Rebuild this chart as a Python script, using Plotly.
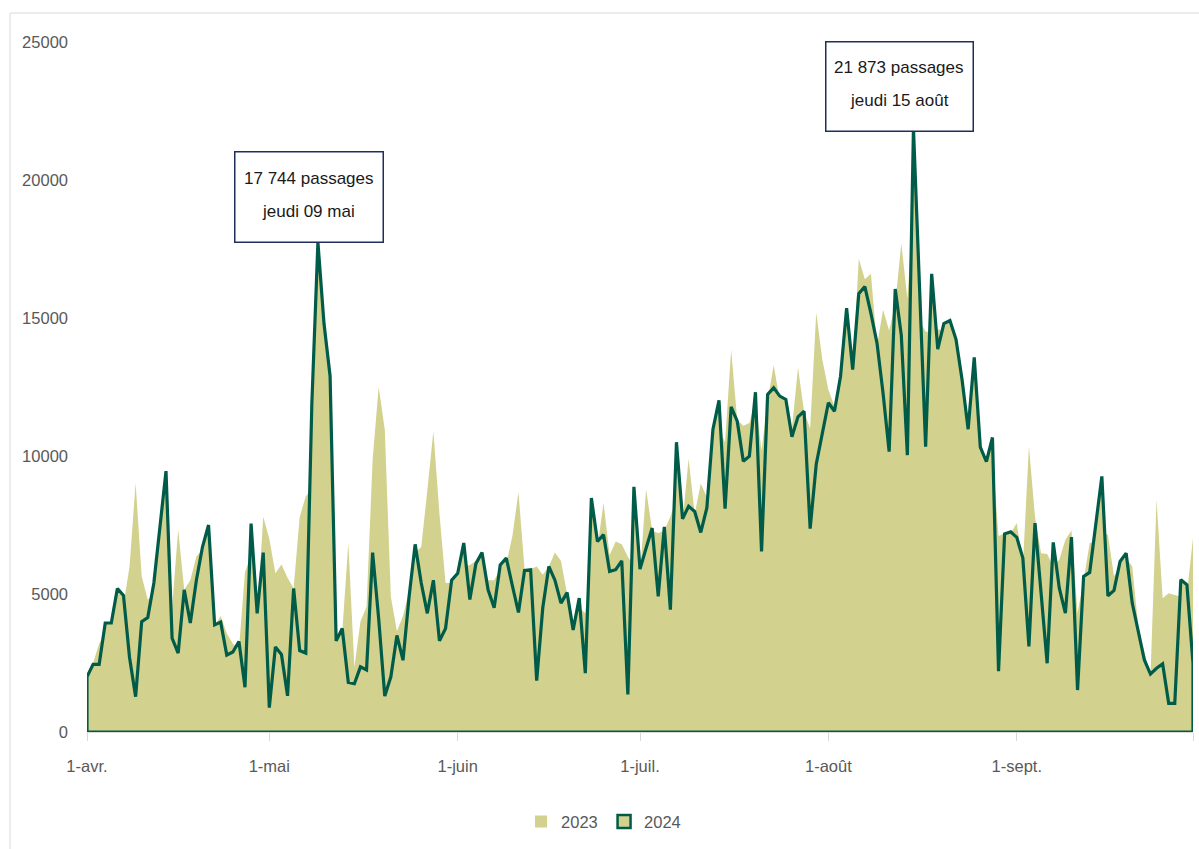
import pandas as pd
import plotly.graph_objects as go

# ---------------- data ----------------
start_date = "2024-04-01"
end_date = "2024-09-30"

passages_2024 = [
    # avril
    2000, 2450, 2450, 3950, 3950, 5200, 4950, 2700, 1280, 4000, 4150, 5400, 7350, 9450, 3400,
    2860, 5150, 3950, 5500, 6700, 7500, 3880, 3980, 2790, 2900, 3280, 1620, 7550, 4300, 6500,
    # mai
    880, 3080, 2810, 1310, 5200, 2950, 2860, 11900, 17744, 14800, 12900, 3300, 3750, 1800, 1750,
    2360, 2250, 6500, 4100, 1300, 2000, 3500, 2600, 4900, 6800, 5400, 4300, 5500, 3300, 3750, 5500,
    # juin
    5750, 6850, 4800, 6100, 6500, 5150, 4500, 6050, 6300, 5300, 4330, 5850, 5880, 1860, 4500,
    6000, 5500, 4670, 5050, 3700, 4850, 2130, 8480, 6900, 7150, 5820, 5880, 6200, 1360, 8880,
    # juillet
    5900, 6660, 7390, 4910, 7430, 4430, 10500, 7720, 8180, 7990, 7230, 8120, 10960, 12020, 8090,
    11780, 11260, 9810, 9990, 12310, 6540, 12230, 12470, 12170, 12050, 10700, 11420, 11620, 7370, 9700, 10840,
    # août
    11930, 11620, 12890, 15360, 13130, 15880, 16140, 15170, 14090, 12270, 10160, 16050, 14370, 10030, 21873,
    16100, 10340, 16600, 13870, 14800, 14910, 14230, 12760, 10970, 13570, 10320, 9800, 10670, 2200, 7180, 7250,
    # septembre
    7050, 6300, 3100, 7570, 5030, 2490, 6870, 5210, 4310, 7060, 1520, 5640, 5780, 7510, 9260,
    4930, 5130, 6180, 6480, 4670, 3580, 2610, 2100, 2310, 2470, 1040, 1040, 5520, 5330, 2490,
]

passages_2023 = [
    # avril
    1900, 2500, 3200, 3600, 3900, 4900, 4600, 6000, 9020, 5640, 4790, 5000, 6000, 7000, 4500,
    7330, 5150, 5500, 6360, 6600, 7000, 3850, 4200, 3580, 3200, 3000, 5800, 6400, 4200, 7800,
    # mai
    7000, 5750, 6070, 5590, 5200, 7790, 8540, 8800, 9500, 9000, 8000, 3200, 3600, 6850, 2350,
    4000, 4540, 9870, 12500, 10960, 4900, 3650, 4200, 5100, 6500, 6700, 8750, 10900, 7900, 5400, 5400,
    # juin
    5600, 6000, 6050, 6200, 6300, 5500, 5500, 5900, 6100, 7100, 8700, 5900, 5900, 6000, 5700,
    6000, 6500, 6200, 5000, 4000, 4500, 4300, 6500, 6700, 8300, 6400, 6900, 6800, 6350, 6000,
    # juillet
    5700, 8800, 7300, 7200, 7300, 7800, 8500, 7600, 9900, 7900, 9000, 8500, 10500, 11000, 10500,
    13850, 11300, 11100, 11200, 12000, 10200, 12000, 13300, 12000, 11900, 11000, 13200, 11600, 11000, 15200, 13500,
    # août
    12400, 11800, 12600, 14500, 13000, 17150, 16400, 16600, 14000, 15300, 14550, 15500, 17700, 15700, 19000,
    14900, 14500, 14500, 14600, 14500, 14500, 14000, 12500, 11000, 13000, 10500, 9500, 10000, 7100, 7200, 7200,
    # septembre
    7570, 6000, 10350, 7800, 6480, 6450, 6000, 6240, 6970, 7300, 4300, 5500, 6850, 6900, 7200,
    7150, 5640, 6000, 6300, 6000, 3800, 2900, 2000, 8420, 4850, 5030, 4970, 4900, 5000, 7030,
]

month_ticks = ["2024-04-01", "2024-05-01", "2024-06-01", "2024-07-01", "2024-08-01", "2024-09-01"]
month_labels = ["1-avr.", "1-mai", "1-juin", "1-juil.", "1-août", "1-sept."]
y_ticks = [0, 5000, 10000, 15000, 20000, 25000]

peak_labels = {
    "2024-05-09": ["17 744 passages", "jeudi 09 mai"],
    "2024-08-15": ["21 873 passages", "jeudi 15 août"],
}

series_names = ["2023", "2024"]

# ---------------- styles ----------------
FONT = "Liberation Sans, Arial, sans-serif"
FS = 16.5
KHAKI = "#D3D18E"
GREEN = "#005C48"
NAVY = "#1F2F5C"
GREY_TXT = "#595959"
GREY_LINE = "#D9D9D9"

dates = pd.date_range(start_date, end_date, freq="D")
assert len(dates) == len(passages_2024) == len(passages_2023)

fig = go.Figure()

# 2023 : filled area, no border
fig.add_trace(go.Scatter(
    x=dates, y=passages_2023, mode="lines", fill="tozeroy",
    fillcolor=KHAKI, line=dict(width=0, color=KHAKI),
    showlegend=False, hoverinfo="skip",
))

# 2024 : filled area with dark green border (closed along baseline)
x24 = [dates[0]] + list(dates) + [dates[-1], dates[0]]
y24 = [0] + passages_2024 + [0, 0]
fig.add_trace(go.Scatter(
    x=x24, y=y24, mode="lines", fill="toself",
    fillcolor=KHAKI, line=dict(width=3.2, color=GREEN),
    showlegend=False, hoverinfo="skip",
))

# legend entries
fig.add_trace(go.Scatter(
    x=[None], y=[None], mode="markers", name=series_names[0],
    marker=dict(symbol="square", size=12, color=KHAKI, line=dict(width=0)),
))
fig.add_trace(go.Scatter(
    x=[None], y=[None], mode="markers", name=series_names[1],
    marker=dict(symbol="square", size=13, color=KHAKI, line=dict(width=2.5, color=GREEN)),
))

# peak call-out boxes
box_geom = {
    "2024-05-09": dict(w=147, h=89, xshift=-9, yshift=-1, lines_y=[64, 31]),
    "2024-08-15": dict(w=146, h=88, xshift=-14, yshift=-4, lines_y=[61, 28]),
}
date_strs = list(dates.strftime("%Y-%m-%d"))
for d, lines in peak_labels.items():
    idx = date_strs.index(d)
    px, py = dates[idx], passages_2024[idx]
    g = box_geom[d]
    fig.add_annotation(
        x=px, y=py, xref="x", yref="y", text=" ", showarrow=False,
        xanchor="center", yanchor="bottom", xshift=g["xshift"], yshift=g["yshift"],
        width=g["w"], height=g["h"], borderpad=0,
        bordercolor=NAVY, borderwidth=1.5, bgcolor="white",
        font=dict(family=FONT, size=FS),
    )
    for txt, ys in zip(lines, g["lines_y"]):
        fig.add_annotation(
            x=px, y=py, xref="x", yref="y", text=txt, showarrow=False,
            xshift=g["xshift"], yshift=ys, xanchor="center", yanchor="middle",
            font=dict(family=FONT, size=FS + 0.5, color="#1A1A1A"),
        )

# outer chart frame
fig.add_shape(
    type="rect", xref="paper", yref="paper",
    x0=-0.0696, x1=1.012, y0=-0.18, y1=1.042,
    line=dict(color=GREY_LINE, width=1), fillcolor="rgba(0,0,0,0)", layer="below",
)

fig.update_layout(
    width=1199, height=849,
    margin=dict(l=87, r=6, t=42, b=117),
    paper_bgcolor="white", plot_bgcolor="white",
    font=dict(family=FONT, size=FS, color=GREY_TXT),
    legend=dict(
        orientation="h", x=0.4675, xanchor="center", y=-0.13, yanchor="middle",
        font=dict(family=FONT, size=FS, color=GREY_TXT),
        itemwidth=30, entrywidth=38, bgcolor="rgba(0,0,0,0)",
    ),
    xaxis=dict(
        type="date", range=[dates[0], dates[-1]],
        tickvals=month_ticks + [end_date], ticktext=month_labels + [""],
        ticks="outside", ticklen=8, tickcolor=GREY_LINE, tickwidth=1,
        showline=True, linecolor=GREY_LINE, linewidth=1,
        showgrid=False, zeroline=False, automargin=False,
        ticklabelstandoff=11,
        tickfont=dict(family=FONT, size=FS, color=GREY_TXT),
    ),
    yaxis=dict(
        range=[0, 25000], tickvals=y_ticks, tickformat="d",
        showgrid=False, zeroline=False, showline=False, ticks="", automargin=False,
        ticklabelstandoff=18,
        tickfont=dict(family=FONT, size=FS, color=GREY_TXT),
    ),
)

fig.write_html(
    "out.html",
    config={"displayModeBar": False},
    post_script="document.body.style.margin='0px';",
)
